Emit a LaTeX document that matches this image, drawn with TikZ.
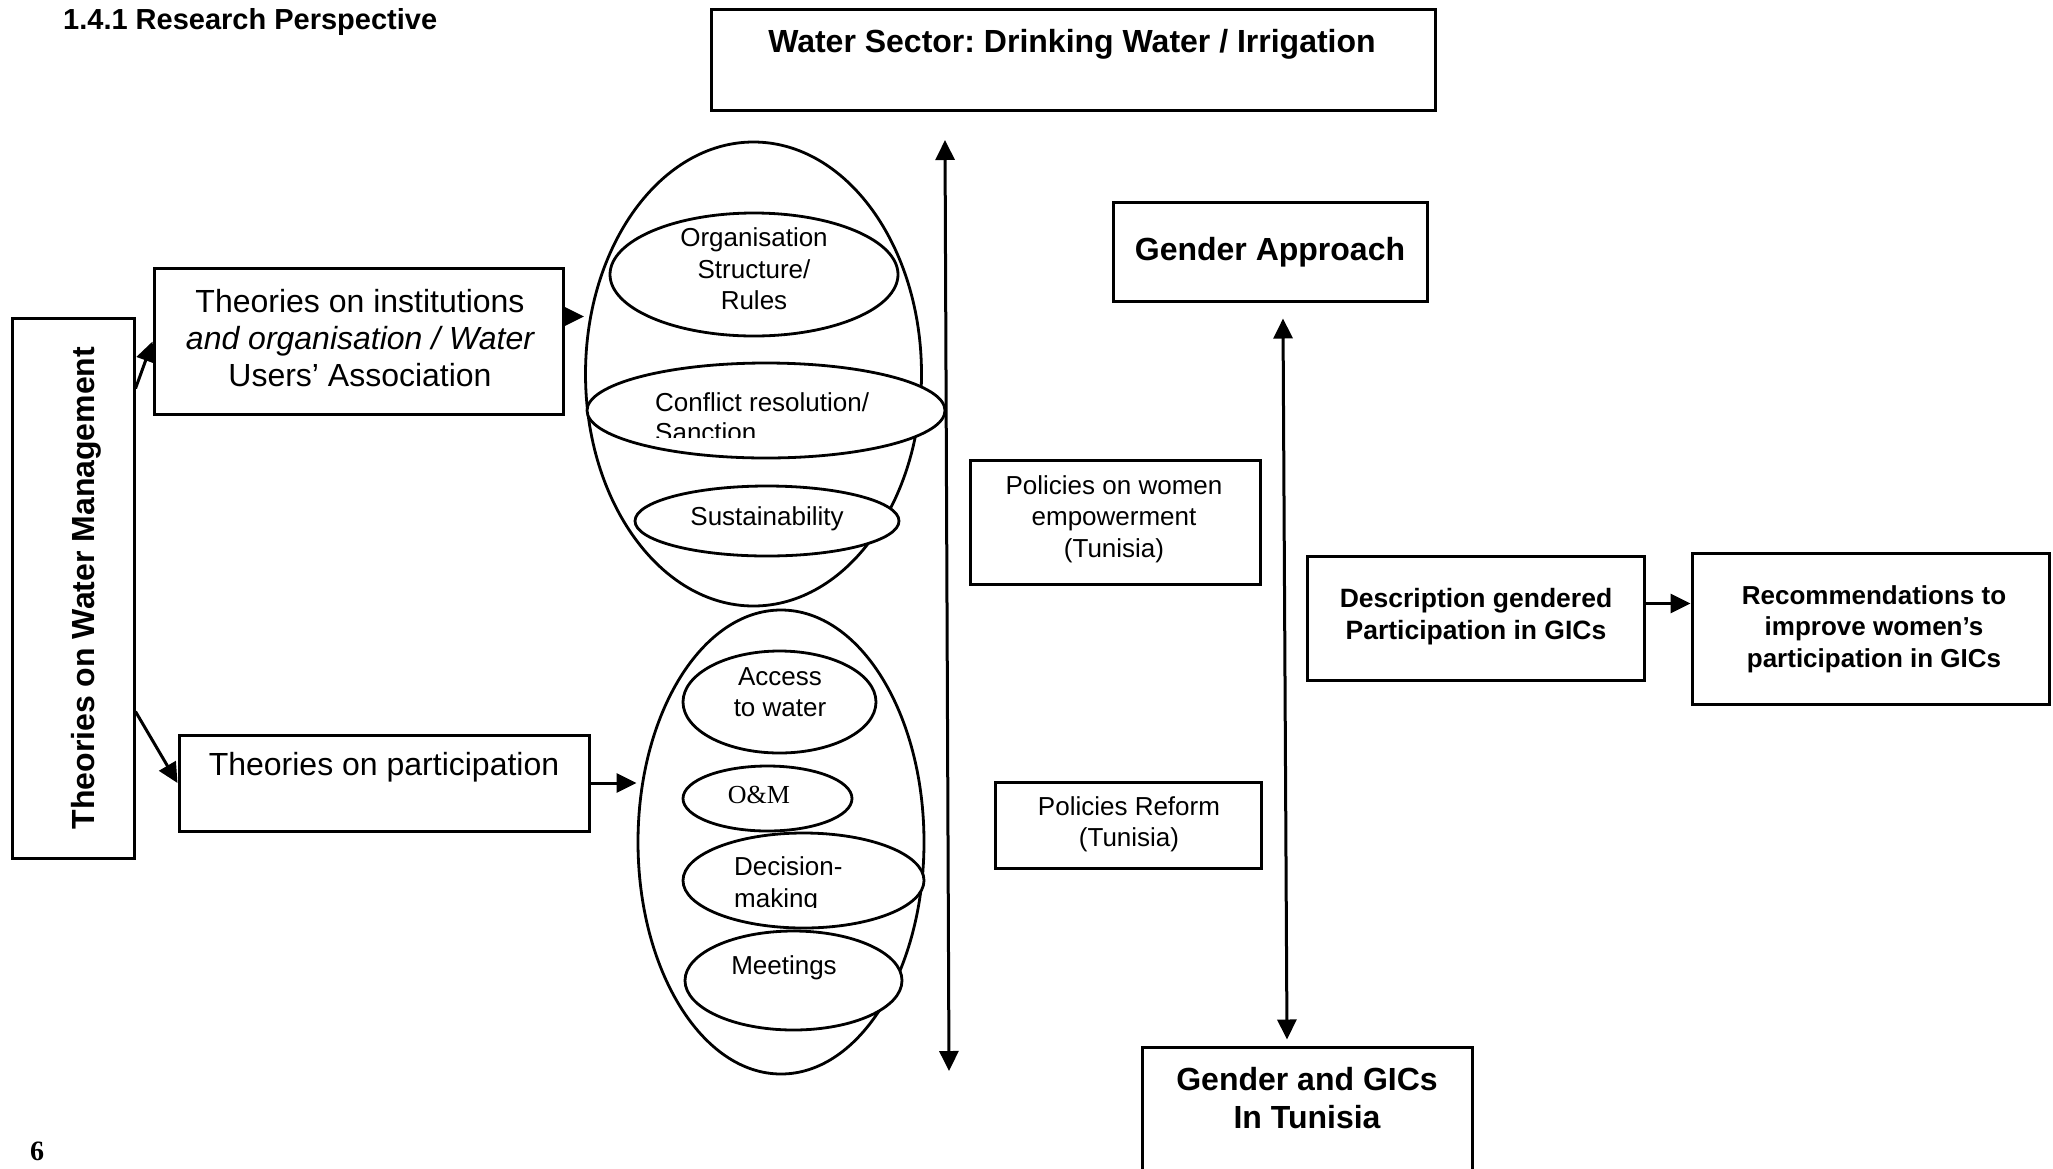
\documentclass[tikz,border=0pt]{standalone}
\usepackage{fontspec}
\setmainfont{Liberation Sans}
\newfontfamily\seriffam{Liberation Serif}
\usetikzlibrary{arrows.meta,shapes.geometric,calc}
\newcommand\fsz[2]{\fontsize{#1}{#2}\selectfont}
\frenchspacing
\begin{document}
\begin{tikzpicture}[x=1pt,y=-1pt,
  bx/.style={draw, line width=3pt, rectangle, inner sep=0pt},
  el/.style={draw, line width=2.8pt, ellipse, inner sep=0pt, fill=white},
  tx/.style={inner sep=0pt, align=center},
  arr/.style={line width=3pt, -{Triangle[length=20pt,width=19pt]}},
  darr/.style={line width=3pt, {Triangle[length=20pt,width=19pt]}-{Triangle[length=20pt,width=19pt]}}]
\clip (0,0) rectangle (2053,1168);
\fill[white] (0,0) rectangle (2053,1168);

% title and page number
\node[tx, anchor=west, font=\bfseries\fsz{29}{34}] (title) at (63,22) {1.4.1 Research Perspective};
\node[tx, font=\seriffam\bfseries\fsz{28}{32}] (pagenum) at (37,1151) {6};

% boxes
\node[bx, minimum width=724pt, minimum height=101pt] (ws) at (1073,59.5) {};
\node[tx, font=\bfseries\fsz{32}{37}] (wst) at (1072,44) {Water Sector: Drinking Water / Irrigation};

\node[bx, minimum width=314pt, minimum height=99pt] (ga) at (1270,251.5) {};
\node[tx, font=\bfseries\fsz{32}{37}] (gat) at (1270,252) {Gender Approach};

\node[bx, minimum width=122pt, minimum height=540pt] (twm) at (73,588) {};
\node[tx, rotate=90, font=\bfseries\fsz{32}{37}] (twmt) at (86,588) {Theories on Water Management};

\node[bx, minimum width=409pt, minimum height=146pt] (inst) at (358.5,341) {};
\node[tx, font=\fsz{32}{37}] (instt) at (360,338) {Theories on institutions\\ {\itshape and organisation / Water}\\ Users' Association};

\node[bx, minimum width=410pt, minimum height=96pt] (part) at (384,783) {};
\node[tx, font=\fsz{32}{37}] (partt) at (384,767) {Theories on participation};

\node[bx, minimum width=290pt, minimum height=124pt] (pw) at (1115,522) {};
\node[tx, font=\fsz{26}{31.5}] (pwt) at (1114,519) {Policies on women\\ empowerment\\ (Tunisia)};

\node[bx, minimum width=266pt, minimum height=86pt] (pr) at (1128,825) {};
\node[tx, font=\fsz{26}{31}] (prt) at (1129,824) {Policies Reform\\ (Tunisia)};

\node[bx, minimum width=337pt, minimum height=124pt] (desc) at (1475.5,618) {};
\node[tx, font=\bfseries\fsz{26.5}{32}] (desct) at (1476,617) {Description gendered\\ Participation in GICs};

\node[bx, minimum width=357pt, minimum height=151pt] (rec) at (1870.5,628.5) {};
\node[tx, font=\bfseries\fsz{26}{31.5}] (rect) at (1874,629) {Recommendations to\\ improve women's\\ participation in GICs};

\node[bx, minimum width=330pt, minimum height=140pt] (gg) at (1307,1117) {};
\node[tx, font=\bfseries\fsz{32}{38}] (ggt) at (1307,1098) {Gender and GICs\\ In Tunisia};

% upper ellipse group
\node[el, minimum width=336pt, minimum height=464pt] (bigU) at (753.5,374) {};
\node[el, minimum width=288pt, minimum height=123pt] (org) at (754,274.5) {};
\node[el, minimum width=358pt, minimum height=95pt] (conf) at (766,410.5) {};
\node[el, minimum width=264pt, minimum height=70pt] (sust) at (767,521) {};
\node[tx, font=\fsz{26}{31.5}] (orgt) at (754,269) {Organisation\\ Structure/\\ Rules};
\begin{scope}
  \clip (conf.north west) rectangle ($(conf.east)+(0,26.5)$);
  \node[tx, align=left, anchor=west, font=\fsz{26}{30}] (conft) at (655,417) {Conflict resolution/\\ Sanction};
\end{scope}
\node[tx, font=\fsz{26}{31}] (sustt) at (767,519) {Sustainability};

% lower ellipse group
\node[el, minimum width=286pt, minimum height=464pt] (bigL) at (781,842) {};
\node[el, minimum width=193pt, minimum height=102pt] (acc) at (779.5,702) {};
\node[el, minimum width=169pt, minimum height=65pt] (om) at (767.5,798.5) {};
\node[el, minimum width=241pt, minimum height=95pt] (dec) at (803.5,880.5) {};
\node[el, minimum width=217pt, minimum height=99pt] (meet) at (793.5,980.5) {};
\node[tx, font=\fsz{26}{31}] (acct) at (780,692) {Access\\ to water};
\node[tx, font=\seriffam\fsz{26}{31}] (omt) at (759,795) {O\&M};
\begin{scope}
  \clip (dec.north west) rectangle ($(dec.east)+(0,26.5)$);
  \node[tx, align=left, anchor=west, font=\fsz{26}{32}] (dect) at (734,885) {Decision-\\ making};
\end{scope}
\node[tx, font=\fsz{26}{31}] (meett) at (784,968) {Meetings};

% connectors
\draw[arr] ($(twm.north east)+(0,72)$) -- ($(inst.north west)+(0,75)$);
\draw[arr] ($(twm.north east)+(0,395)$) -- (part.west);
\coordinate (a3) at ($(inst.north east)+(0,50)$);
\draw[arr] (a3) -- (a3 -| bigU.west);
\draw[arr] (part.east) -- (part.east -| bigL.west);
\coordinate (a5) at ($(desc.north east)+(0,49)$);
\draw[arr] (a5) -- (a5 -| rec.west);

\coordinate (wtop) at (945,140);
\coordinate (wbot) at (949,1071);
\draw[darr] (wtop) -- (wbot);

\draw[darr] ($(ga.south)+(13,16)$) -- ($(gg.north)+(-20,-6)$);
\end{tikzpicture}
\end{document}
